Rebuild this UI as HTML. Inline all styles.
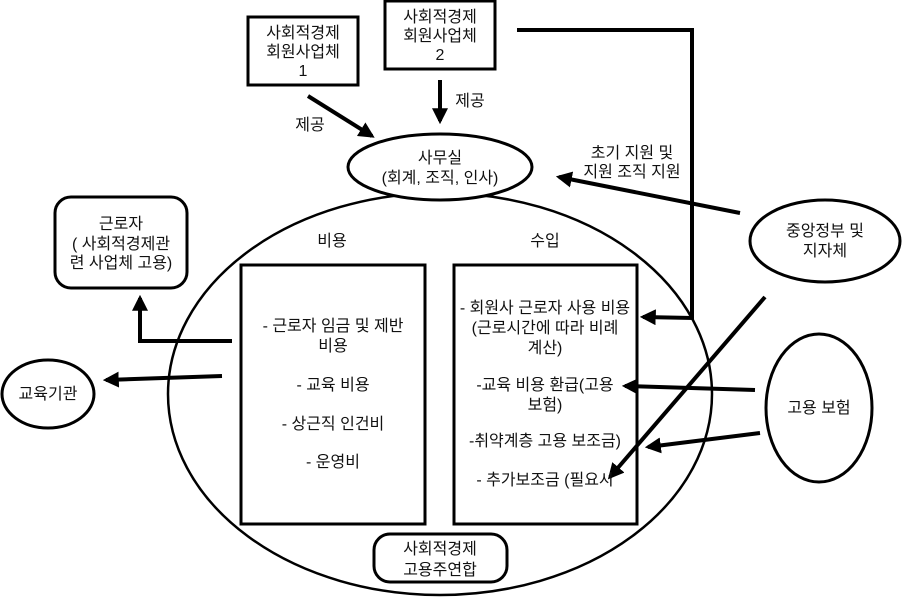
<!DOCTYPE html>
<html><head><meta charset="utf-8"><style>
html,body{margin:0;padding:0;background:#fff;width:902px;height:598px;overflow:hidden}
svg text{font-family:"Liberation Sans","Noto Sans CJK KR","NanumGothic",sans-serif;font-size:16px;fill:#111}
</style></head><body>
<svg width="902" height="598" viewBox="0 0 902 598">
<defs><marker id="a" viewBox="0 0 10 10" refX="8" refY="5" markerWidth="4" markerHeight="4" orient="auto"><path d="M0,0 L10,5 L0,10 z" fill="#000"/></marker></defs>
<g fill="none" stroke="#000">
<ellipse cx="440" cy="394" rx="272" ry="201" stroke-width="2.5"/>
<ellipse cx="440" cy="167" rx="92" ry="33" fill="#fff" stroke-width="3"/>
<rect x="248" y="17" width="110" height="68" stroke-width="3"/>
<rect x="385" y="1" width="110" height="68" stroke-width="3"/>
<rect x="55" y="197" width="132" height="91" rx="16" stroke-width="3"/>
<ellipse cx="48" cy="394" rx="46" ry="34" stroke-width="3"/>
<rect x="241" y="265" width="184" height="259" fill="#fff" stroke-width="3"/>
<rect x="454" y="265" width="183" height="259" fill="#fff" stroke-width="3"/>
<rect x="374" y="534" width="133" height="48" rx="16" fill="#fff" stroke-width="3"/>
<ellipse cx="825" cy="241" rx="75" ry="41" stroke-width="3"/>
<ellipse cx="819" cy="408" rx="53" ry="74" stroke-width="3"/>
<g stroke-width="4">
<line x1="308" y1="96" x2="372" y2="136" marker-end="url(#a)"/>
<line x1="440" y1="80" x2="440" y2="121" marker-end="url(#a)"/>
<line x1="740" y1="213" x2="559" y2="177" marker-end="url(#a)"/>
<polyline points="517,30 692,30 692,318 643,317" marker-end="url(#a)"/>
<polyline points="232,341 140,341 140,298" marker-end="url(#a)"/>
<line x1="222" y1="376" x2="106" y2="380" marker-end="url(#a)"/>
<line x1="755" y1="390" x2="625" y2="386" marker-end="url(#a)"/>
<line x1="760" y1="433" x2="648" y2="447" marker-end="url(#a)"/>
<line x1="765" y1="297" x2="610" y2="477" marker-end="url(#a)"/>
</g></g>
<g text-anchor="middle">
<text x="303" y="38">사회적경제</text><text x="303" y="57">회원사업체</text><text x="303" y="76" fill="#622">1</text>
<text x="440" y="22">사회적경제</text><text x="440" y="41">회원사업체</text><text x="440" y="60">2</text>
<text x="310" y="130">제공</text><text x="470" y="106">제공</text>
<text x="440" y="163">사무실</text><text x="440" y="183">(회계, 조직, 인사)</text>
<text x="632" y="158">초기 지원 및</text><text x="632" y="177">지원 조직 지원</text>
<text x="825" y="236">중앙정부 및</text><text x="825" y="256">지자체</text>
<text x="121" y="229">근로자</text><text x="121" y="249">( 사회적경제관</text><text x="121" y="268">련 사업체 고용)</text>
<text x="332" y="246">비용</text><text x="545" y="246">수입</text>
<text x="48" y="399">교육기관</text>
<text x="333" y="331">- 근로자 임금 및 제반</text><text x="333" y="351">비용</text>
<text x="333" y="390">- 교육 비용</text><text x="333" y="429">- 상근직 인건비</text><text x="333" y="467">- 운영비</text>
<text x="545" y="313">- 회원사 근로자 사용 비용</text><text x="545" y="333">(근로시간에 따라 비례</text><text x="545" y="353">계산)</text>
<text x="545" y="390">-교육 비용 환급(고용</text><text x="545" y="410">보험)</text>
<text x="545" y="446">-취약계층 고용 보조금)</text><text x="545" y="485">- 추가보조금 (필요시</text>
<text x="819" y="413">고용 보험</text>
<text x="440" y="554">사회적경제</text><text x="440" y="575">고용주연합</text>
</g>
</svg>
</body></html>
